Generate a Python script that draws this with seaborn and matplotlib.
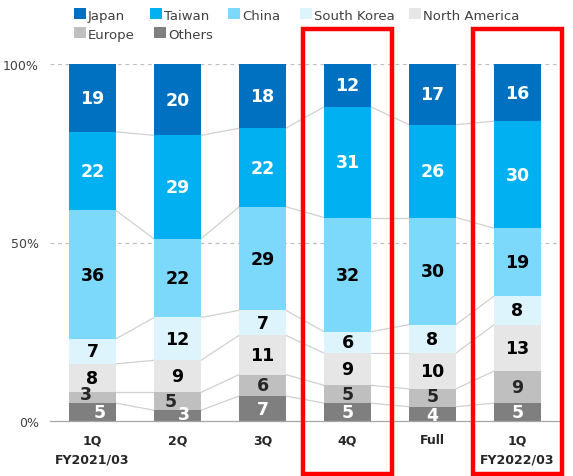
import numpy as np
import pandas as pd
import matplotlib
matplotlib.use("Agg")
import matplotlib.pyplot as plt
from matplotlib.patches import Rectangle
from matplotlib.lines import Line2D
import seaborn as sns

# Sales composition by region (%), stacked bottom -> top
periods = ["1Q\nFY2021/03", "2Q", "3Q", "4Q", "Full", "1Q\nFY2022/03"]
others = [5, 3, 7, 5, 4, 5]
europe = [3, 5, 6, 5, 5, 9]
north_america = [8, 9, 11, 9, 10, 13]
south_korea = [7, 12, 7, 6, 8, 8]
china = [36, 22, 29, 32, 30, 19]
taiwan = [22, 29, 22, 31, 26, 30]
japan = [19, 20, 18, 12, 17, 16]
highlighted = ["4Q", "1Q\nFY2022/03"]

regions = ["Others", "Europe", "North America", "South Korea", "China", "Taiwan", "Japan"]
values = [others, europe, north_america, south_korea, china, taiwan, japan]
colors = ["#7F7F7F", "#BFBFBF", "#E6E6E6", "#DDF4FD", "#7DD9FC", "#00B0F0", "#0070C0"]
text_colors = ["white", "#262626", "black", "black", "black", "white", "white"]

sns.set_style("white")
plt.rcParams["font.family"] = ["DejaVu Sans"]

W, H = 573, 477
fig = plt.figure(figsize=(W / 100, H / 100), dpi=100)
ax = fig.add_axes([50 / W, 55 / H, 510 / W, 357 / H])

df = pd.DataFrame({r: v for r, v in zip(regions, values)}, index=periods)
cum = df.cumsum(axis=1)
bottoms = cum - df

width = 0.55
# dashed gridlines behind the bars
for yv in (50, 100):
    ax.axhline(yv, color="#BFBFBF", lw=0.9, ls=(0, (3, 3)), zorder=0)

# stacked bars: draw the tallest cumulative level first, then overlay lower ones
for region, color in reversed(list(zip(regions, colors))):
    sns.barplot(x=periods, y=cum[region].values, order=periods, color=color,
                saturation=1, width=width, errorbar=None, linewidth=0,
                ax=ax, zorder=2)

# connector lines between segment boundaries of neighbouring bars
n = len(periods)
for region in regions[:-1]:
    levels = cum[region].values
    for i in range(n - 1):
        ax.add_line(Line2D([i + width / 2, i + 1 - width / 2],
                           [levels[i], levels[i + 1]],
                           color="#D0D0D0", lw=0.9, zorder=1))

# value labels; small bottom segments of the first two bars are nudged apart
nudge = {("Others", 0): (0.08, 0), ("Europe", 0): (-0.08, 1.0),
         ("Others", 1): (0.08, 0.6), ("Europe", 1): (-0.08, 0),
         ("Others", 4): (0, -0.4), ("Europe", 4): (0, 0.6)}
for region, tc in zip(regions, text_colors):
    for i, p in enumerate(periods):
        v = df.loc[p, region]
        dx, dy = nudge.get((region, i), (0, 0))
        ax.text(i + dx, bottoms.loc[p, region] + v / 2 + dy, f"{v}",
                ha="center", va="center", color=tc, fontsize=12.5,
                fontweight="bold", zorder=4)

ax.set_xlim(-0.5, n - 0.5)
ax.set_ylim(0, 100)
ax.set_yticks([0, 50, 100])
ax.set_yticklabels(["0%", "50%", "100%"], fontsize=9, color="#404040")
ax.tick_params(axis="y", length=0, pad=8)
ax.set_xticks(range(n))
ax.set_xticklabels(periods, fontsize=9, fontweight="bold", color="#262626",
                   linespacing=1.6)
ax.set_xticks(np.arange(-0.5, n, 1.0), minor=True)
ax.tick_params(axis="x", which="major", length=0, pad=9)
ax.tick_params(axis="x", which="minor", length=4, color="#A6A6A6", width=0.9)
ax.set_xlabel("")
for side in ("left", "right", "top"):
    ax.spines[side].set_visible(False)
ax.spines["bottom"].set_color("#A6A6A6")
ax.spines["bottom"].set_linewidth(0.9)
ax.spines["bottom"].set_zorder(3)

# red frames around the highlighted periods
for p in highlighted:
    i = periods.index(p)
    ax.add_patch(Rectangle((i - 0.52, -14.8), 1.04, 124.6, fill=False,
                           edgecolor="#FF0000", lw=3.2, clip_on=False, zorder=5))

# legend entries placed in two rows
legend_slots = {"Japan": (74, 16), "Taiwan": (150, 16), "China": (228, 16),
                "South Korea": (300, 16), "North America": (409, 16),
                "Europe": (74, 35), "Others": (154, 35)}
for r, (px, py) in legend_slots.items():
    h = Rectangle((0, 0), 1, 1, facecolor=colors[regions.index(r)], edgecolor="none")
    leg = fig.legend([h], [r], loc="center left", bbox_to_anchor=(px / W, 1 - py / H),
                     frameon=False, fontsize=9.5, handlelength=0.9, handleheight=0.9,
                     handletextpad=0.15, borderaxespad=0, borderpad=0)
    for t in leg.get_texts():
        t.set_color("#404040")

fig.savefig("out.png", dpi=100)
